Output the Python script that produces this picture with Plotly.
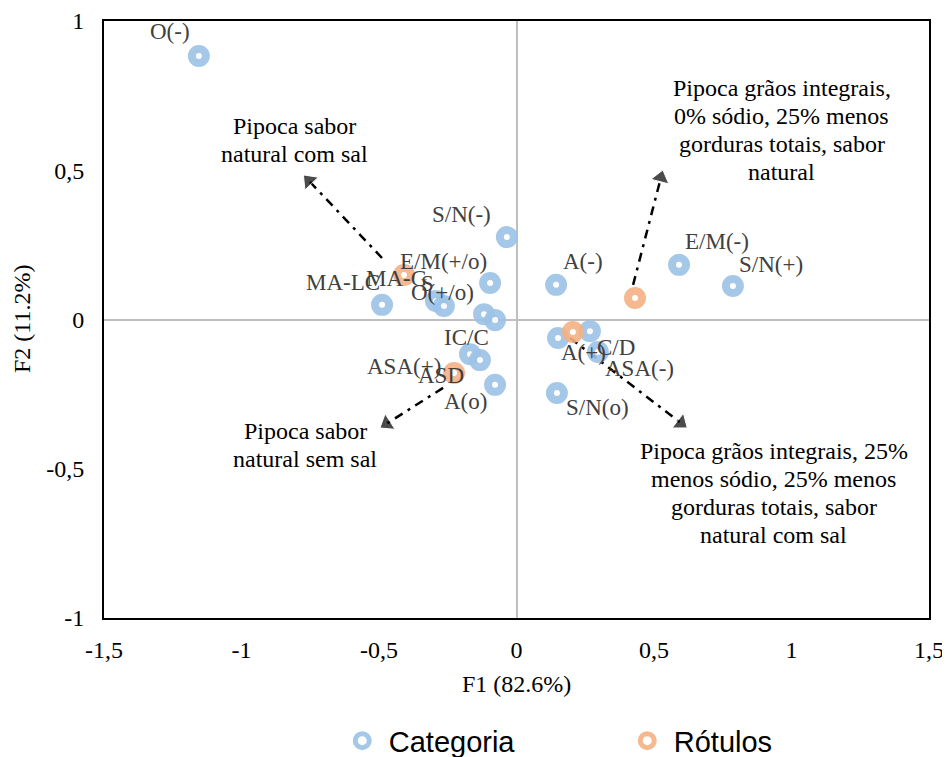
import plotly.graph_objects as go

# ---- data ----
cat_labels = ["O(-)", "S/N(-)", "A(-)", "E/M(-)", "S/N(+)", "MA-LC", "MA-G", "S",
              "E/M(+/o)", "O(+/o)", "IC/C", "ASA(+)", "ASD", "A(o)", "A(+)", "C/D",
              "ASA(-)", "S/N(o)"]
cat_f1 = [-1.155, -0.035, 0.144, 0.591, 0.787, -0.489, -0.293, -0.264,
          -0.096, -0.118, -0.078, -0.169, -0.133, -0.078, 0.151, 0.267,
          0.296, 0.147]
cat_f2 = [0.883, 0.276, 0.116, 0.183, 0.112, 0.049, 0.062, 0.045,
          0.122, 0.018, -0.002, -0.116, -0.136, -0.219, -0.062, -0.039,
          -0.109, -0.246]

rot_names = [["Pipoca sabor", "natural com sal"],
             ["Pipoca grãos integrais,", "0% sódio, 25% menos", "gorduras totais, sabor", "natural"],
             ["Pipoca grãos integrais, 25%", "menos sódio, 25% menos", "gorduras totais, sabor", "natural com sal"],
             ["Pipoca sabor", "natural sem sal"]]
rot_f1 = [-0.409, 0.431, 0.205, -0.227]
rot_f2 = [0.149, 0.072, -0.042, -0.179]

x_ticks = [-1.5, -1, -0.5, 0, 0.5, 1, 1.5]
x_ticktext = ["-1,5", "-1", "-0,5", "0", "0,5", "1", "1,5"]
y_ticks = [-1, -0.5, 0, 0.5, 1]
y_ticktext = ["-1", "-0,5", "0", "0,5", "1"]

# ---- layout helpers (positions/styles) ----
label_shift = [(-29, 24), (-45, 23), (27, 23), (38, 23), (38, 22), (-39, 22), (-39, 22), (-16, 23),
               (-47, 22), (-42, 22), (-29, -17), (-66, -12), (-39, -15), (-30, -17), (25, -14), (26, -16),
               (42, -16), (41, -15)]
arrows = [(-0.489, 0.206, -0.755, 0.465),
          (0.424, 0.116, 0.525, 0.475),
          (0.195, -0.062, 0.598, -0.347),
          (-0.267, -0.229, -0.472, -0.349)]
text_pos = [(-0.809, 0.601), (0.965, 0.635), (0.936, -0.581), (-0.769, -0.420)]
LINE_H = 28

SERIF = "Liberation Serif, Times New Roman, serif"
BLUE = "#9DC3E6"
ORANGE = "#F4B183"
FS = 24

fig = go.Figure()

for (x0, y0, x1, y1) in arrows:
    fig.add_trace(go.Scatter(
        x=[x0, x1], y=[y0, y1], mode="lines+markers",
        line=dict(color="black", width=2.5, dash="9px,6px,3px,6px"),
        marker=dict(symbol="triangle-up", size=[0, 16], angleref="previous", color="black"),
        showlegend=False, hoverinfo="skip"))

fig.add_trace(go.Scatter(
    x=cat_f1, y=cat_f2, mode="markers", name="Categoria",
    marker=dict(size=14, color="white", opacity=0.9,
                line=dict(color=BLUE, width=8)),
    text=cat_labels))

fig.add_trace(go.Scatter(
    x=rot_f1, y=rot_f2, mode="markers", name="Rótulos",
    marker=dict(size=14, color="white", opacity=0.9,
                line=dict(color=ORANGE, width=8))))

annotations = []
for lab, xv, yv, (dx, dy) in zip(cat_labels, cat_f1, cat_f2, label_shift):
    annotations.append(dict(x=xv, y=yv, xref="x", yref="y", text=lab, showarrow=False,
                            xshift=dx, yshift=dy,
                            font=dict(family=SERIF, size=FS - 1, color="#404040")))
for lines, (tx, ty) in zip(rot_names, text_pos):
    n = len(lines)
    for i, ln in enumerate(lines):
        annotations.append(dict(x=tx, y=ty, xref="x", yref="y", text=ln, showarrow=False,
                                xanchor="center", yanchor="middle",
                                yshift=-(i - (n - 1) / 2) * LINE_H,
                                font=dict(family=SERIF, size=FS, color="black")))
# axis titles
annotations.append(dict(x=0.5, y=-0.1106, xref="paper", yref="paper", text="F1 (82.6%)",
                        showarrow=False, xanchor="center", yanchor="middle",
                        font=dict(family=SERIF, size=FS, color="black")))
annotations.append(dict(x=-0.1, y=0.5, xref="paper", yref="paper", text="F2 (11.2%)",
                        showarrow=False, xanchor="center", yanchor="middle", textangle=-90,
                        font=dict(family=SERIF, size=FS, color="black")))

fig.update_layout(
    width=950, height=757,
    margin=dict(l=96, r=29, t=13, b=147),
    plot_bgcolor="white", paper_bgcolor="white",
    annotations=annotations,
    xaxis=dict(range=[-1.5, 1.5], tickvals=x_ticks, ticktext=x_ticktext,
               showgrid=False, zeroline=True, zerolinecolor="#BFBFBF", zerolinewidth=1.5,
               showline=True, mirror=True, linecolor="black", linewidth=2,
               ticks="", ticklabelstandoff=9, automargin=False,
               tickfont=dict(family=SERIF, size=FS, color="black")),
    yaxis=dict(range=[-1, 1], tickvals=y_ticks, ticktext=y_ticktext,
               showgrid=False, zeroline=True, zerolinecolor="#BFBFBF", zerolinewidth=1.5,
               showline=True, mirror=True, linecolor="black", linewidth=2,
               ticks="", ticklabelstandoff=13, automargin=False,
               tickfont=dict(family=SERIF, size=FS, color="black")),
    legend=dict(orientation="h", xref="container", yref="container",
                x=0.345, xanchor="left", y=0.032, yanchor="middle",
                itemwidth=43,
                entrywidth=227, entrywidthmode="pixels",
                font=dict(family="Liberation Sans, Arial, sans-serif", size=29, color="black")),
    showlegend=True,
)

fig.write_html("out.html")
